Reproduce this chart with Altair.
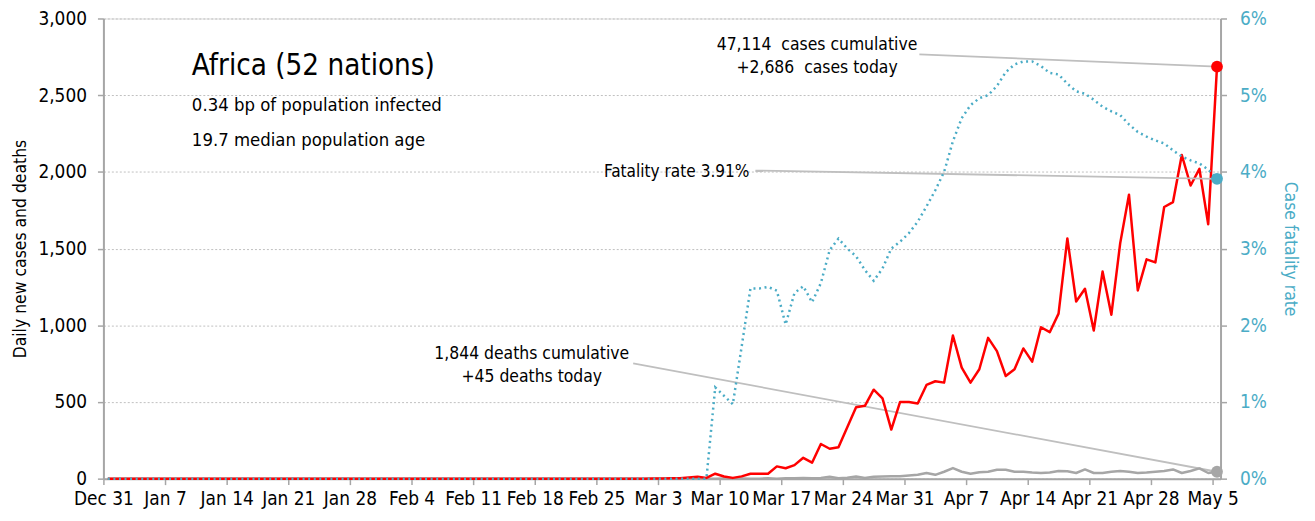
import json
import altair as alt
import pandas as pd

# ---------------- data ----------------
# day index = days after Dec 31 2019; series start at day 0 (all zero until first value list start)
start_day = 60  # values below begin at Feb 29 (day 60); earlier days are zero
cases = [0, 0, 1, 1, 2, 2, 8, 12, 5, 32, 14, 5, 15, 32, 32, 32, 80, 68, 88, 136,
         104, 226, 195, 205, 335, 465, 475, 580, 523, 320, 500, 500, 490, 611, 635, 626,
         933, 724, 626, 713, 918, 831, 669, 713, 849, 763, 987, 955, 1076, 1566, 1155,
         1238, 966, 1350, 1069, 1534, 1851, 1227, 1430, 1410, 1771, 1803, 2110, 1911,
         2020, 1659, 2686]
deaths = [0, 0, 0, 0, 0, 0, 0, 0, 0, 0, 1, 0, 1, 0, 0, 2, 0, 2, 2, 5,
          3, 5, 12, 3, 6, 14, 4, 13, 14, 15, 15, 20, 25, 37, 25, 45,
          69, 45, 32, 42, 45, 58, 58, 45, 45, 40, 37, 40, 50, 48, 37,
          60, 37, 37, 45, 50, 45, 37, 40, 45, 50, 60, 37, 50,
          67, 37, 45]
rate = [0, 0, 0, 0, 0, 0, 0, 0, 0, 1.19, 1.08, 0.97, 1.72, 2.48, 2.48, 2.50, 2.45, 2.01, 2.42, 2.51,
        2.30, 2.55, 2.98, 3.13, 3.00, 2.90, 2.72, 2.58, 2.74, 3.00, 3.09, 3.20, 3.35, 3.55, 3.76, 4.00,
        4.40, 4.70, 4.87, 4.96, 5.00, 5.12, 5.30, 5.40, 5.44, 5.44, 5.38, 5.29, 5.27, 5.15, 5.05,
        5.02, 4.94, 4.85, 4.79, 4.74, 4.62, 4.52, 4.46, 4.41, 4.37, 4.28, 4.20, 4.15,
        4.11, 4.03, 3.91]

tick_labels = ["Dec 31", "Jan 7", "Jan 14", "Jan 21", "Jan 28", "Feb 4", "Feb 11", "Feb 18",
               "Feb 25", "Mar 3", "Mar 10", "Mar 17", "Mar 24", "Mar 31", "Apr 7", "Apr 14",
               "Apr 21", "Apr 28", "May 5"]
left_ticks = [0, 500, 1000, 1500, 2000, 2500, 3000]
right_ticks = [0, 1, 2, 3, 4, 5, 6]

title_text = "Africa (52 nations)"
sub1 = "0.34 bp of population infected"
sub2 = "19.7 median population age"
cases_note = ["47,114\u00a0 cases cumulative", "+2,686\u00a0 cases today"]
rate_note = "Fatality rate 3.91%"
deaths_note = ["1,844 deaths cumulative", "+45 deaths today"]

# ---------------- table ----------------
n_days = start_day + len(cases)
df = pd.DataFrame({
    "day": list(range(n_days)),
    "cases": [0] * start_day + cases,
    "deaths": [0] * start_day + deaths,
    "rate": [0] * start_day + rate,
})
df["x"] = df["day"] + 0.5  # readings plotted at mid-day
last = df.tail(1)

FONT = "'DejaVu Sans Condensed', 'Roboto Condensed', 'Liberation Sans Narrow', Roboto, sans-serif"
RED = "#FF0000"
BLUE = "#4BACC6"
GREY = "#A6A6A6"
LGREY = "#BFBFBF"

xscale = alt.Scale(domain=[0, 126.9], nice=False, zero=False)
xaxis = alt.Axis(values=[7 * i for i in range(len(tick_labels))],
                 labelExpr=json.dumps(tick_labels) + "[round(datum.value/7)]",
                 title=None, grid=False, tickSize=6, tickColor=GREY, tickWidth=1.5,
                 domainColor=GREY, domainWidth=2, labelFontSize=19, labelPadding=5,
                 labelColor="#000000", labelFont=FONT, labelOverlap=False, labelBound=False,
                 labelFlush=False)
X = alt.X("x:Q", scale=xscale, axis=xaxis)

lscale = alt.Scale(domain=[0, 3000], nice=False)
laxis = alt.Axis(values=left_ticks, format=",.0f", title="Daily new cases and deaths",
                 titleFontSize=17.5, titleFont=FONT, titleFontWeight="normal", titleColor="#000000",
                 titlePadding=8, grid=True, gridColor=LGREY, gridDash=[2, 2], gridWidth=1,
                 tickSize=6, tickColor=GREY, tickWidth=1.5, domainColor=GREY, domainWidth=2,
                 labelFontSize=19, labelFont=FONT, labelColor="#000000", labelPadding=11,
                 labelFlush=False)

rscale = alt.Scale(domain=[0, 6], nice=False)
raxis = alt.Axis(values=right_ticks, labelExpr="datum.value + '%'", title="Case fatality rate",
                 orient="right", titleFontSize=17.5, titleFont=FONT, titleFontWeight="normal",
                 titleColor=BLUE, titlePadding=14, grid=False, tickSize=6, tickColor=GREY,
                 tickWidth=1.5, domainColor=GREY, domainWidth=2, labelFontSize=19, labelFont=FONT,
                 labelColor=BLUE, labelPadding=13, labelFlush=False)

def YL(field):
    return alt.Y(f"{field}:Q", scale=lscale, axis=laxis)

base = alt.Chart(df)
lastc = alt.Chart(last)

deaths_line = base.mark_line(color=GREY, strokeWidth=2.5, strokeJoin="round").encode(x=X, y=YL("deaths"))
cases_line = base.mark_line(color=RED, strokeWidth=2.5, strokeJoin="round").encode(x=X, y=YL("cases"))
deaths_dot = lastc.mark_circle(color=GREY, size=140, opacity=1).encode(x=X, y=YL("deaths"))
cases_dot = lastc.mark_circle(color=RED, size=140, opacity=1).encode(x=X, y=YL("cases"))

cases_conn = lastc.mark_rule(color=LGREY, strokeWidth=1.8).encode(
    x=X, y=YL("cases"), x2=alt.value(821), y2=alt.value(36))
deaths_conn = lastc.mark_rule(color=LGREY, strokeWidth=1.8).encode(
    x=X, y=YL("deaths"), x2=alt.value(533), y2=alt.value(347))

def txt(s, px, py, size, align="center"):
    return alt.Chart(last).mark_text(text=s, font=FONT, fontSize=size, align=align,
                                     baseline="middle", color="#000000").encode(
        x=alt.value(px), y=alt.value(py))

texts = [
    txt(title_text, 89, 48, 29.5, "left"),
    txt(sub1, 89, 87, 18.5, "left"),
    txt(sub2, 89, 122, 18.5, "left"),
    txt(cases_note[0], 718, 27, 17.5),
    txt(cases_note[1], 718, 50, 17.5),
    txt(deaths_note[0], 431, 338, 17.5),
    txt(deaths_note[1], 431, 361, 17.5),
    txt(rate_note, 650, 154, 17.2, "right"),
]

left = alt.layer(deaths_conn, cases_conn, deaths_line, cases_line, deaths_dot, cases_dot, *texts)

YR = alt.Y("rate:Q", scale=rscale, axis=raxis)
rate_conn = lastc.mark_rule(color=LGREY, strokeWidth=1.8).encode(
    x=X, y=YR, x2=alt.value(656), y2=alt.value(153))
rate_line = base.mark_line(color=BLUE, strokeWidth=2.5, strokeDash=[2, 3.6]).encode(x=X, y=YR)
rate_dot = lastc.mark_circle(color=BLUE, size=140, opacity=1).encode(x=X, y=YR)
right = alt.layer(rate_conn, rate_line, rate_dot)

chart = alt.layer(left, right).resolve_scale(y="independent").properties(
    width=1124, height=463,
    autosize=alt.AutoSizeParams(type="none"),
    padding={"left": 96, "top": 9, "right": 87, "bottom": 33},
).configure_view(stroke=None).configure(background="white")

chart.save("out.html", embed_options={"renderer": "svg", "actions": False})
